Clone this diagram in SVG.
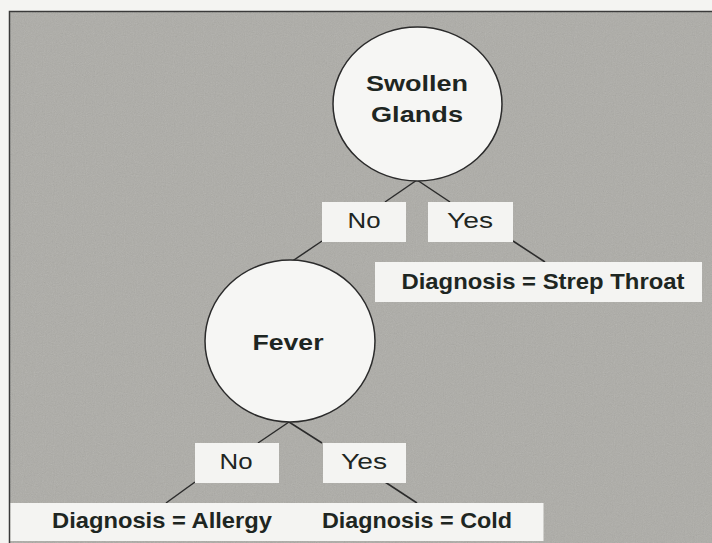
<svg xmlns="http://www.w3.org/2000/svg" width="712" height="543" viewBox="0 0 712 543">
  <style>
    .node circle, .node ellipse { fill: #f6f6f4; stroke: #2b2b2b; stroke-width: 1.5; }
    .box { fill: #f4f4f2; stroke: none; }
    .lbl { font-family: "Liberation Sans", Arial, sans-serif; font-size: 22px; fill: #1e2622; text-anchor: middle; }
    .bold { font-weight: bold; }
    .edge { stroke: #2b2b2b; stroke-width: 1.5; fill: none; }
  </style>
  <defs>
    <filter id="grain" x="0" y="0" width="100%" height="100%">
      <feTurbulence type="fractalNoise" baseFrequency="0.9" numOctaves="2" seed="3" result="n"/>
      <feColorMatrix type="saturate" values="0"/>
      <feComponentTransfer>
        <feFuncA type="linear" slope="0.35"/>
      </feComponentTransfer>
    </filter>
  </defs>
  <rect x="0" y="0" width="712" height="543" fill="#f4f4f2"/>
  <rect x="9.5" y="11.5" width="710" height="540" fill="#adaca7" stroke="#3a3a3a" stroke-width="1.5"/>
  <rect x="10" y="12" width="702" height="531" filter="url(#grain)" opacity="0.6"/>

  <g id="connectors">
    <line class="edge" x1="417" y1="180" x2="385" y2="202"/>
    <line class="edge" x1="417" y1="180" x2="450" y2="202"/>
    <line class="edge" x1="322" y1="241" x2="291" y2="262"/>
    <line class="edge" x1="513" y1="241" x2="545" y2="262"/>
    <line class="edge" x1="289" y1="422" x2="258" y2="443"/>
    <line class="edge" x1="289" y1="422" x2="322" y2="443"/>
    <line class="edge" x1="195" y1="482" x2="166" y2="503"/>
    <line class="edge" x1="385" y1="482" x2="417" y2="503"/>
  </g>

  <g id="swollen-glands" class="node">
    <ellipse cx="417.5" cy="104" rx="84.5" ry="77"/>
    <text class="lbl bold" x="417" y="91" font-size="22" textLength="102" lengthAdjust="spacingAndGlyphs">Swollen</text>
    <text class="lbl bold" x="417" y="122" font-size="22" textLength="92" lengthAdjust="spacingAndGlyphs">Glands</text>
  </g>

  <g id="sg-no" class="node">
    <rect class="box" x="322" y="202" width="84" height="40"/>
    <text class="lbl" x="364" y="228" font-size="23" textLength="33" lengthAdjust="spacingAndGlyphs">No</text>
  </g>
  <g id="sg-yes" class="node">
    <rect class="box" x="428" y="202" width="85" height="40"/>
    <text class="lbl" x="470" y="228" font-size="23" textLength="46" lengthAdjust="spacingAndGlyphs">Yes</text>
  </g>

  <g id="strep-throat" class="node">
    <rect class="box" x="375" y="262" width="327" height="40"/>
    <text class="lbl bold" x="543" y="289" font-size="21" textLength="283" lengthAdjust="spacingAndGlyphs">Diagnosis = Strep Throat</text>
  </g>

  <g id="fever" class="node">
    <ellipse cx="290" cy="341" rx="85" ry="81"/>
    <text class="lbl bold" x="288" y="350" font-size="24" textLength="71" lengthAdjust="spacingAndGlyphs">Fever</text>
  </g>

  <g id="fever-no" class="node">
    <rect class="box" x="195" y="443" width="84" height="40"/>
    <text class="lbl" x="236" y="469" font-size="23" textLength="33" lengthAdjust="spacingAndGlyphs">No</text>
  </g>
  <g id="fever-yes" class="node">
    <rect class="box" x="323" y="443" width="83" height="40"/>
    <text class="lbl" x="364" y="469" font-size="23" textLength="46" lengthAdjust="spacingAndGlyphs">Yes</text>
  </g>

  <g id="diagnosis-bottom" class="node">
    <rect class="box" x="10.5" y="503" width="533" height="38"/>
  </g>
  <g id="allergy" class="node">
    <text class="lbl bold" x="162" y="528" font-size="21" textLength="220" lengthAdjust="spacingAndGlyphs">Diagnosis = Allergy</text>
  </g>
  <g id="cold" class="node">
    <text class="lbl bold" x="417" y="528" font-size="21" textLength="190" lengthAdjust="spacingAndGlyphs">Diagnosis = Cold</text>
  </g>
</svg>
